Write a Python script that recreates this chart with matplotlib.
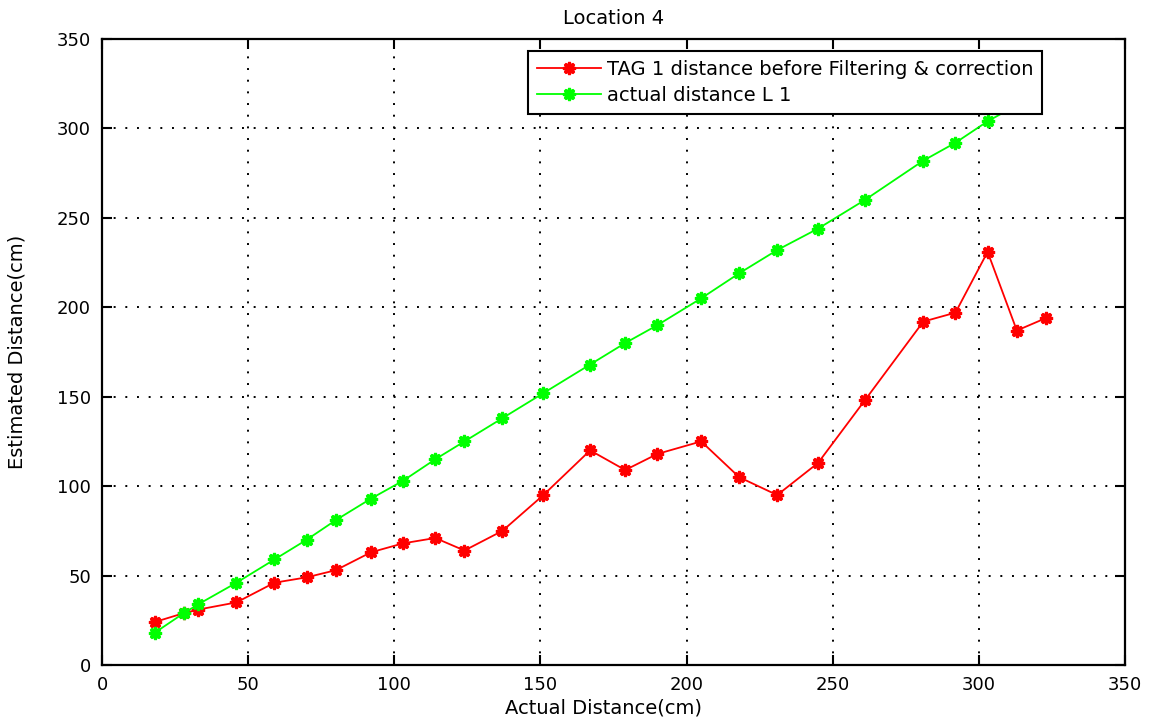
import numpy as np
import matplotlib
matplotlib.use("Agg")
import matplotlib.pyplot as plt

# measured points, Location 4
actual_cm = [18, 28, 33, 46, 59, 70, 80, 92, 103, 114, 124, 137, 151, 167,
             179, 190, 205, 218, 231, 245, 261, 281, 292, 303, 313, 323]
tag1_raw = [24, 29, 31, 35, 46, 49, 53, 63, 68, 71, 64, 75, 95, 120,
            109, 118, 125, 105, 95, 113, 148, 192, 197, 231, 187, 194]
# reference line L1 (last point sits under the legend)
l1_x = [18, 28, 33, 46, 59, 70, 80, 92, 103, 114, 124, 137, 151, 167,
        179, 190, 205, 218, 231, 245, 261, 281, 292, 303, 313]
actual_l1 = [18, 29, 34, 46, 59, 70, 81, 93, 103, 115, 125, 138, 152, 168,
             180, 190, 205, 219, 232, 244, 260, 282, 292, 304, 313]

ticks = [0, 50, 100, 150, 200, 250, 300, 350]

plt.rcParams["font.family"] = ["DejaVu Sans"]

fig = plt.figure(figsize=(11.53, 7.21), dpi=100)
ax = fig.add_axes([0.0885, 0.0777, 0.8872, 0.8682])

star = (8, 1, 0)
ax.plot(actual_cm, tag1_raw, color="red", lw=1.3, marker=star, ms=9, mew=2,
        mec="red", mfc="red", label="TAG 1 distance before Filtering & correction")
ax.plot(l1_x, actual_l1, color="#00ff00", lw=1.3, marker=star, ms=9, mew=2,
        mec="#00ff00", mfc="#00ff00", label="actual distance L 1")

ax.set_xlim(0, 350)
ax.set_ylim(0, 350)
ax.set_xticks(ticks)
ax.set_yticks(ticks)
ax.grid(True, color="black", linestyle=(0, (1, 5)), linewidth=1.4)

ax.tick_params(direction="in", length=7, width=1.5, top=True, right=True,
               labelsize=13, pad=8)
for sp in ax.spines.values():
    sp.set_linewidth(1.6)

ax.set_title("Location 4", fontsize=14, pad=11)
ax.set_xlabel("Actual Distance(cm)", fontsize=14)
ax.set_ylabel("Estimated Distance(cm)", fontsize=14)
ax.xaxis.set_label_coords(0.49, -0.054)
ax.yaxis.set_label_coords(-0.0743, 0.5)

leg = ax.legend(loc="upper right", bbox_to_anchor=(0.9189, 0.9808), fontsize=14,
                fancybox=False, framealpha=1, edgecolor="black",
                handlelength=3.3, borderpad=0.45, labelspacing=0.38,
                handletextpad=0.3, borderaxespad=0)
leg.get_frame().set_linewidth(1.5)

fig.savefig("out.png", dpi=100)
